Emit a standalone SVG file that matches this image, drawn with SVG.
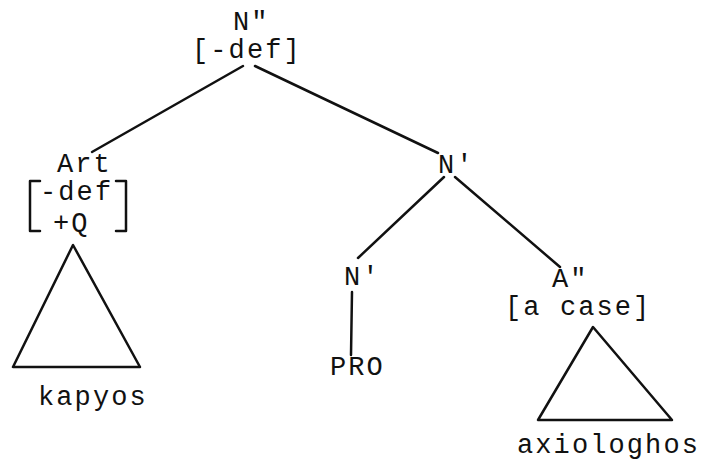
<svg xmlns="http://www.w3.org/2000/svg" width="708" height="468" viewBox="0 0 708 468">
<style>
text{font-family:"Liberation Mono","DejaVu Sans Mono",monospace;font-size:27px;letter-spacing:2.1px;fill:#111}
.e{stroke:#111;stroke-width:2.5;fill:none;stroke-linecap:round;stroke-linejoin:round}
</style>
<rect width="708" height="468" fill="#fff"/>
<g id="connectors">
<line class="e" x1="243" y1="66" x2="92" y2="152"/>
<line class="e" x1="255" y1="66" x2="438" y2="153"/>
<line class="e" x1="444" y1="177" x2="358" y2="258"/>
<line class="e" x1="455" y1="177" x2="560" y2="267"/>
<line class="e" x1="352" y1="292" x2="351" y2="355"/>
</g>
<g id="n-top">
<text x="233" y="30">N"</text>
<text x="192" y="58">[-def]</text>
</g>
<g id="art">
<text x="57" y="172">Art</text>
<text x="40" y="200">-def</text>
<text x="53" y="231">+Q</text>
<path class="e" d="M40 181 H30 V231 H40"/>
<path class="e" d="M116 181 H126 V231 H116"/>
</g>
<g id="art-tri">
<polygon class="e" points="73,245 13,367 140,367"/>
<text x="38" y="405">kapyos</text>
</g>
<g id="nbar">
<text x="438" y="173">N'</text>
</g>
<g id="nbar-low">
<text x="344" y="285">N'</text>
</g>
<g id="pro">
<text x="330" y="375">PRO</text>
</g>
<g id="a2">
<text x="552" y="287">A"</text>
<text x="505" y="315">[a case]</text>
</g>
<g id="a-tri">
<polygon class="e" points="593,327 538,420 672,420"/>
<text x="517" y="453">axiologhos</text>
</g>
</svg>
